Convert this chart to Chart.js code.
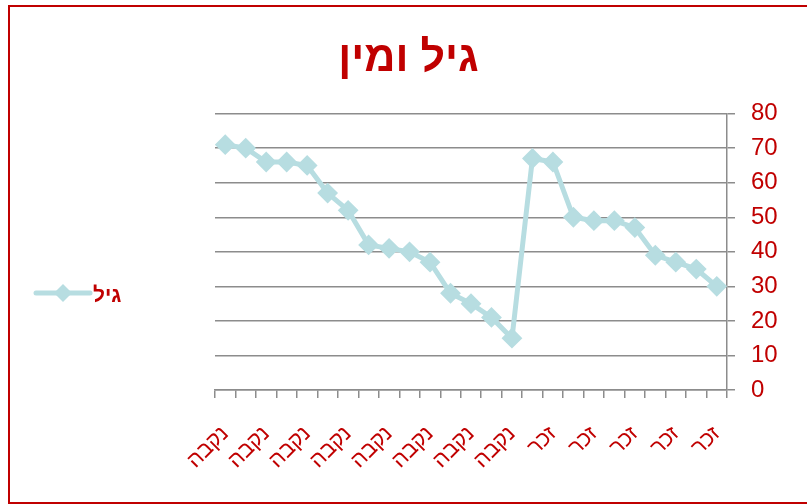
<!DOCTYPE html>
<html lang="he">
<head>
<meta charset="utf-8">
<script src="https://cdn.jsdelivr.net/npm/chart.js@4/dist/chart.umd.min.js"></script>
<style>
  html, body { margin: 0; padding: 0; background: #ffffff; }
  #wrap { width: 807px; height: 504px; }
</style>
</head>
<body>
<div id="wrap"><canvas id="chart" width="807" height="504"></canvas></div>
<script>
// Age by gender: one point per person, women first, then men
const categories = [
  'נקבה','נקבה','נקבה','נקבה','נקבה','נקבה','נקבה','נקבה',
  'נקבה','נקבה','נקבה','נקבה','נקבה','נקבה','נקבה',
  'זכר','זכר','זכר','זכר','זכר','זכר','זכר','זכר','זכר','זכר'
];
const ages = [71, 70, 66, 66, 65, 57, 52, 42, 41, 40, 37, 28, 25, 21, 15,
              67, 66, 50, 49, 49, 47, 39, 37, 35, 30];
const seriesName = 'גיל';
const chartTitle = 'גיל ומין';
const yTicks = { min: 0, max: 80, step: 10 };

const RED = '#c00000';
const TEAL = 'rgb(183,221,225)';
const GRID = '#8c8c8c';
const FONT = '"Liberation Sans", Arial, "DejaVu Sans", sans-serif';

// Frame around the whole chart
const framePlugin = {
  id: 'frame',
  afterDraw(chart) {
    const ctx = chart.ctx;
    ctx.save();
    ctx.strokeStyle = RED;
    ctx.lineWidth = 2;
    ctx.strokeRect(9, 6, 810, 497);
    ctx.restore();
  }
};

// Legend at the left: line with a diamond, then the series name
const sideLegend = {
  id: 'sideLegend',
  afterDraw(chart) {
    const ctx = chart.ctx;
    const y = 293, x0 = 36, x1 = 90, cx = 63, r = 9;
    ctx.save();
    ctx.strokeStyle = TEAL;
    ctx.fillStyle = TEAL;
    ctx.lineWidth = 5;
    ctx.lineCap = 'round';
    ctx.beginPath();
    ctx.moveTo(x0, y);
    ctx.lineTo(x1, y);
    ctx.stroke();
    ctx.beginPath();
    ctx.moveTo(cx, y - r);
    ctx.lineTo(cx + r, y);
    ctx.lineTo(cx, y + r);
    ctx.lineTo(cx - r, y);
    ctx.closePath();
    ctx.fill();
    ctx.fillStyle = RED;
    ctx.font = 'bold 21px ' + FONT;
    ctx.textAlign = 'left';
    ctx.textBaseline = 'middle';
    ctx.fillText(seriesName, 93, y + 3);
    ctx.restore();
  }
};

new Chart(document.getElementById('chart'), {
  type: 'line',
  data: {
    labels: categories,
    datasets: [{
      label: seriesName,
      data: ages,
      borderColor: TEAL,
      backgroundColor: TEAL,
      borderWidth: 5,
      tension: 0,
      pointStyle: 'rectRot',
      pointRadius: 9,
      pointBorderWidth: 2,
      pointBackgroundColor: TEAL,
      pointBorderColor: TEAL,
      yAxisID: 'y'
    }]
  },
  options: {
    responsive: false,
    animation: false,
    events: [],
    layout: { padding: { top: 0, right: 0, bottom: 0, left: 10 } },
    plugins: {
      legend: { display: false },
      tooltip: { enabled: false },
      title: {
        display: true,
        text: chartTitle,
        color: RED,
        font: { family: FONT, size: 43, weight: 'bold', lineHeight: 1.2 },
        padding: { top: 33, bottom: 29 }
      }
    },
    scales: {
      x: {
        type: 'category',
        offset: true,
        grid: {
          offset: true,
          drawOnChartArea: false,
          drawTicks: true,
          tickLength: 8,
          color: GRID,
          lineWidth: 1.5
        },
        border: { display: true, color: GRID, width: 1.5 },
        ticks: {
          autoSkip: false,
          maxRotation: 45,
          minRotation: 45,
          padding: 23,
          color: RED,
          font: { family: FONT, size: 22 },
          callback(value, index) {
            return index % 2 === 0 ? this.getLabelForValue(value) : '';
          }
        },
        afterFit(scale) { scale.height = 114; }
      },
      y: {
        position: 'right',
        min: yTicks.min,
        max: yTicks.max,
        grid: { color: GRID, lineWidth: 1.5, tickLength: 8, drawTicks: true },
        border: { display: true, color: GRID, width: 1.5 },
        ticks: {
          stepSize: yTicks.step,
          padding: 16,
          color: RED,
          font: { family: FONT, size: 24 }
        },
        afterFit(scale) { scale.width = 80; }
      },
      // empty left axis that reserves the room where the legend sits
      side: {
        position: 'left',
        display: true,
        grid: { display: false, drawTicks: false },
        border: { display: false },
        ticks: { display: false },
        afterFit(scale) { scale.width = 205; }
      }
    }
  },
  plugins: [framePlugin, sideLegend]
});
</script>
</body>
</html>
